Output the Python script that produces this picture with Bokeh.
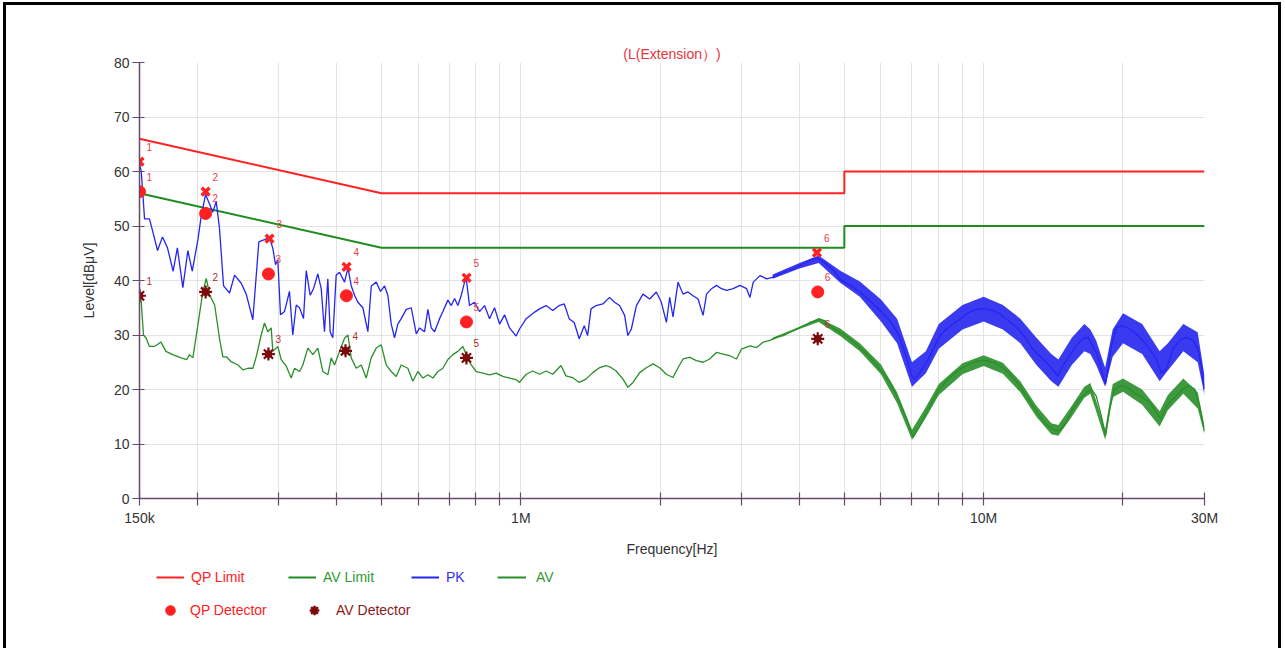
from bokeh.plotting import figure
from bokeh.layouts import column
from bokeh.models import (Range1d, FixedTicker, CustomJSTickFormatter, Legend, LegendItem)
from bokeh.embed import file_html
from bokeh.resources import INLINE

# ---------------- data ----------------
title_text = "(L(Extension）)"

# limit lines
qp_limit_freq = [150e3, 500e3, 5e6, 5e6, 30e6]
qp_limit_level = [66, 56, 56, 60, 60]
av_limit_freq = [150e3, 500e3, 5e6, 5e6, 30e6]
av_limit_level = [56, 46, 46, 50, 50]

# PK trace, low range (kHz)
pk_low_khz = [150, 151.3, 152.5, 153.8, 157.6, 160.2, 164.1, 168.2, 172.4, 177.3,
              181.1, 186.1, 190.8, 195.0, 200.6, 203.9, 208.4, 212.6, 216.0, 219.7,
              223.3, 227.9, 234.8, 240.7, 248.8, 255.1, 263.6, 271.6, 279.3, 286.4,
              291.2, 295.1, 298.5, 302.5, 308.6, 316.3, 321.6, 327.1, 332.5, 339.2,
              343.8, 350.6, 356.5, 364.2, 370.4, 376.5, 382.8, 387.3, 392.4, 399.1,
              405.8, 416, 423, 430.2, 437.3, 444.6, 455.7, 467.2, 475.2, 487.1,
              497.6, 507.6, 516, 524.8, 533.5, 542.3, 551.6, 565.5, 579.8, 594.4,
              604.2, 619.4, 629.7, 640.4, 651, 667.4, 678.6, 695.7, 707.5, 719.2,
              731.2, 743.6, 755.9, 762.3, 774.8, 794.3, 814.3, 834.8, 855.8, 877.4,
              899.6, 922.2, 945.5, 976.7]
pk_low_level = [61.5, 60, 56, 51.3, 51.3, 49, 45.5, 48, 46, 41.7,
                46, 38.7, 45.5, 41.7, 47.5, 51.8, 55.8, 54, 52.5, 54.5,
                49.6, 39, 37.7, 41, 39.5, 37.5, 32.8, 47.1, 47.5, 47.9,
                45.9, 42.9, 43.8, 33.7, 34.3, 38, 30, 35.5, 35, 33,
                41.8, 37.3, 38.5, 41.2, 38.5, 30.6, 40.3, 30.6, 29.5, 41,
                41.5, 39.7, 42.3, 39, 37.3, 36, 35, 30.6, 39, 39.7,
                38, 39, 37.3, 32, 29.5, 32, 33, 34.7, 35, 30.2,
                31.3, 30.6, 34.7, 31.3, 30.6, 33, 34.3, 36.4, 35.4, 36.7,
                35.4, 37.3, 39.7, 40.3, 35.4, 36, 34.3, 35.4, 33, 35,
                32, 33.7, 31.3, 29.8]

# PK trace, high range (MHz)
pk_high_mhz = [0.9936, 1.027, 1.071, 1.098, 1.134, 1.172, 1.210, 1.241, 1.272, 1.304,
               1.337, 1.371, 1.394, 1.418, 1.454, 1.504, 1.555, 1.594, 1.634, 1.676,
               1.703, 1.733, 1.777, 1.836, 1.898, 1.962, 2.012, 2.063, 2.097, 2.132,
               2.186, 2.241, 2.297, 2.356, 2.415, 2.476, 2.519, 2.582, 2.647, 2.714,
               2.783, 2.876, 2.974, 3.075, 3.126, 3.178, 3.286, 3.397, 3.511, 3.630,
               3.753, 3.879, 4.010, 4.146, 4.285, 4.393, 4.504, 4.656, 4.813, 4.881,
               5.141, 5.403, 5.679, 5.969, 6.273, 6.537, 6.759, 6.988, 7.103, 7.282,
               7.529, 7.779, 8.042, 8.315, 8.592, 8.884, 9.185, 9.490, 9.812, 10.14,
               10.48, 10.83, 11.2, 11.57, 11.96, 12.36, 12.77, 13.2, 13.65, 14.1,
               14.46, 14.83, 15.33, 15.85, 16.38, 16.79, 17.21, 17.65, 18.09, 18.34,
               18.55, 18.87, 19.34, 19.99, 20.67, 21.37, 22.08, 22.83, 23.6, 24.2,
               24.81, 25.64, 26.51, 27.4, 28.31, 29.03, 29.51, 30.0]
pk_high_level = [31.1, 33, 34.2, 34.8, 35.4, 34.5, 35.4, 35.7, 33, 32.3,
                 29.3, 31.7, 29.9, 34.8, 35.4, 35.7, 36.9, 36, 35.4, 33.6,
                 29.9, 31.1, 35.4, 37.5, 36.6, 37.9, 36, 32.3, 36.9, 33.3,
                 39.7, 37.5, 37.9, 37.2, 36.6, 33.6, 37.5, 38.5, 39.1, 38.5,
                 38.2, 38.5, 39.1, 38.5, 36.9, 39.7, 40.9, 40.3, 40.6, 41.2,
                 41.8, 42.1, 42.8, 43.4, 44, 44, 43.4, 42.5, 41.2, 40.3,
                 39.1, 37.9, 36.3, 34.5, 32.6, 30.2, 26.8, 22.5, 21.9, 23.1,
                 25, 27.4, 29.9, 31.1, 32, 32.9, 33.9, 34.5, 34.8, 34.8,
                 34.5, 33.9, 32.9, 32, 30.8, 29.3, 27.4, 26.2, 25, 23.7,
                 22.5, 24.4, 26.2, 28, 29.3, 29.6, 28, 26.2, 22.5, 21,
                 23.7, 28, 31.4, 31.7, 31.1, 30.2, 29, 27.4, 25.6, 23.1,
                 23.7, 27.4, 29, 29.6, 29, 27.4, 24.4, 20.1]

# AV trace, low range (kHz)
av_low_khz = [150, 151.3, 153.0, 155.1, 157.6, 161.6, 166.9, 171.1, 177.0, 184.5,
              189.8, 192.3, 195.6, 200.6, 205.6, 209.1, 212.6, 218.0, 223.3, 227.1,
              230.9, 236.8, 244.8, 251.0, 257.3, 263.7, 268.1, 274.8, 279.3, 284.0,
              288.8, 291.2, 298.5, 303.5, 311.2, 319.0, 324.4, 332.5, 338.1, 346.6,
              355.4, 364.3, 373.5, 382.9, 389.3, 395.8, 405.8, 416.0, 423.0, 430.1,
              440.9, 452.0, 463.3, 475.0, 487.0, 499.3, 511.8, 524.7, 537.9, 551.4,
              570.0, 584.3, 599.1, 614.2, 629.7, 645.5, 661.8, 678.5, 695.6, 713.1,
              731.0, 749.4, 762.1, 781.3, 801.0, 827.9, 855.9, 884.8, 914.4, 945.4,
              977.3]
av_low_level = [38.5, 36, 30, 29.4, 27.9, 27.9, 28.7, 27, 26.4, 25.8,
                25.5, 26.4, 25.8, 31.9, 38, 40.4, 37.4, 35.5, 29.4, 26,
                26, 25.1, 24.5, 23.6, 23.9, 23.9, 26, 30, 32.2, 30.6,
                31.3, 27, 27.9, 25.5, 24.3, 22.1, 23.9, 23.3, 24.5, 27.6,
                26.4, 27.6, 23.3, 22.7, 25.8, 24.5, 27, 29.4, 30, 25.8,
                23.9, 24.5, 22.1, 25.8, 27.6, 28.2, 24.5, 23.3, 22.4, 24.5,
                23.9, 21.5, 23.3, 22.1, 22.7, 22.1, 23.3, 23.9, 25.5, 26.4,
                27, 27.9, 26.4, 24.5, 23.3, 23, 22.7, 23, 22.4, 22.1,
                21.8]

# AV trace, high range (MHz)
av_high_mhz = [0.9936, 1.027, 1.061, 1.098, 1.134, 1.172, 1.221, 1.252, 1.293, 1.337,
               1.383, 1.430, 1.479, 1.529, 1.568, 1.607, 1.662, 1.704, 1.747, 1.806,
               1.867, 1.930, 1.995, 2.062, 2.132, 2.186, 2.241, 2.317, 2.395, 2.476,
               2.559, 2.646, 2.735, 2.827, 2.923, 2.996, 3.126, 3.232, 3.341, 3.454,
               3.570, 3.691, 3.815, 3.944, 4.077, 4.215, 4.321, 4.430, 4.542, 4.656,
               4.813, 4.974, 5.141, 5.403, 5.679, 5.969, 6.273, 6.594, 6.815, 7.043,
               7.282, 7.529, 7.779, 8.042, 8.315, 8.592, 8.884, 9.185, 9.490, 9.812,
               10.14, 10.48, 10.83, 11.2, 11.57, 11.96, 12.36, 12.77, 13.2, 13.65,
               14.1, 14.58, 15.08, 15.58, 16.11, 16.66, 17.08, 17.51, 17.95, 18.34,
               18.71, 19.18, 19.83, 20.67, 21.37, 22.08, 22.83, 23.6, 24.2, 24.6,
               25.22, 26.07, 26.94, 27.86, 28.55, 29.27, 30.0]
av_high_level = [21.3, 22.8, 23.4, 22.8, 23.4, 22.8, 24.4, 22.5, 22.2, 21.3,
                 21.9, 23.1, 24, 24.4, 24, 23.4, 21.9, 20.4, 21.3, 23.1,
                 24, 24.7, 24, 22.8, 22.2, 24, 25.6, 25.9, 25.3, 25,
                 25.6, 26.8, 26.5, 26.2, 25.6, 27.4, 28, 27.7, 28.7, 29,
                 29.6, 29.9, 30.5, 31.1, 31.7, 32.3, 32.6, 32.9, 32.6, 31.7,
                 30.8, 30.2, 29.3, 27.7, 25.9, 23.7, 21.3, 17.6, 14.5, 11.2,
                 13.3, 15.8, 18.2, 20.1, 21.6, 22.8, 23.7, 24.4, 25, 25.3,
                 25.3, 25, 24.4, 23.4, 22.2, 20.7, 18.8, 17, 15.2, 13.6,
                 12.7, 12.4, 13.9, 16.4, 18.2, 19.4, 20.1, 18.8, 15.2, 11.5,
                 16.4, 20.1, 20.7, 20.1, 19.1, 18.5, 17.6, 15.8, 14.5, 16.4,
                 17.6, 18.8, 20.1, 20.7, 20.1, 17, 12.3]

# noise band envelopes of the dense sweep (MHz)
band_mhz = [3.5, 4.0, 4.4, 4.9, 5.4, 6.0, 6.5, 7.0, 7.5, 8.0, 9.0,
            10.0, 11.0, 12.0, 13.0, 14.0, 14.5, 15.5, 16.5, 17.0, 17.5,
            18.3, 19.0, 20.0, 22.0, 24.0, 25.0, 27.0, 29.0, 30.0]
pk_upper = [41.1, 43.2, 44.6, 41.8, 39.8, 36.5, 33, 25, 27, 32, 35.5,
            37, 35.5, 33, 29.5, 26.5, 25.5, 29.5, 32, 31, 29,
            24, 31, 34, 32, 27, 28.5, 32, 30.5, 22.5]
pk_lower = [40.3, 42.2, 43.2, 39.6, 37, 32.5, 28.5, 20.5, 23, 27.5, 31,
            32.5, 31, 28.5, 24.5, 21.5, 20.5, 24.5, 27, 26.5, 24.5,
            20.5, 26, 28.5, 26.5, 21.5, 23.5, 27, 25, 19]
av_upper = [29.5, 31.5, 33.1, 31.2, 28.5, 24.6, 19.5, 12.6, 16.8, 21, 24.8,
            26.3, 24.9, 21.5, 17, 13.8, 13.5, 17, 20.5, 21.2, 18,
            12.7, 21, 22, 20, 16, 19, 22, 19.5, 13.3]
av_lower = [29.1, 31.1, 32.4, 29.8, 27, 22.8, 17.5, 10.8, 14.8, 19, 22.8,
            24.3, 22.9, 19.5, 15, 11.8, 11.5, 15, 18.5, 19.2, 16,
            10.8, 18.6, 19.6, 17.2, 13.2, 16.2, 19.2, 16.5, 11.8]

# final measurement points
marker_ids = ["1", "2", "3", "4", "5", "6"]
peak_freq = [150e3, 208.4e3, 286.4e3, 420.2e3, 763.5e3, 4.363e6]
peak_level = [61.8, 56.3, 47.7, 42.5, 40.5, 45.1]
qp_det_freq = [150e3, 208.4e3, 284.9e3, 420e3, 763e3, 4.38e6]
qp_det_level = [56.3, 52.3, 41.2, 37.2, 32.4, 37.9]
av_det_freq = [150e3, 208.4e3, 284.9e3, 418e3, 763e3, 4.38e6]
av_det_level = [37.2, 37.9, 26.5, 27.1, 25.8, 29.3]

# axis ticks
x_ticks = [150e3, 200e3, 300e3, 400e3, 500e3, 600e3, 700e3, 800e3, 900e3,
           1e6, 2e6, 3e6, 4e6, 5e6, 6e6, 7e6, 8e6, 9e6, 10e6, 20e6, 30e6]
x_label_ticks = [150e3, 1e6, 10e6, 30e6]
x_label_text = ["150k", "1M", "10M", "30M"]
y_ticks = [0, 10, 20, 30, 40, 50, 60, 70, 80]

# ---------------- derived series ----------------
pk_freq = [f * 1e3 for f in pk_low_khz] + [f * 1e6 for f in pk_high_mhz]
pk_level = pk_low_level + pk_high_level
av_freq = [f * 1e3 for f in av_low_khz] + [f * 1e6 for f in av_high_mhz]
av_level = av_low_level + av_high_level
band_freq = [f * 1e6 for f in band_mhz]

# ---------------- styling ----------------
FONT = "Liberation Sans"
RED = "#ff2121"
LIMIT_GREEN = "#1e8c1e"
TRACE_GREEN = "#2a8f2a"
BLUE = "#2525f0"
DARK_RED = "#7d0a0a"
AXIS_COLOR = "#6a4a6a"

W = 1272
MAIN_H = 554
LEG_H = 89

p = figure(width=W, height=MAIN_H, x_axis_type="log",
           x_range=Range1d(150e3, 30e6), y_range=Range1d(0, 80),
           output_backend="svg", toolbar_location=None,
           min_border_left=133, min_border_right=74,
           min_border_top=57, min_border_bottom=61,
           title=title_text)
p.outline_line_color = None
p.background_fill_color = "white"
p.border_fill_color = "white"

p.title.align = "center"
p.title.text_color = "#e8343c"
p.title.text_font = FONT
p.title.text_font_size = "14px"
p.title.text_font_style = "normal"
p.title.standoff = 2

xt = FixedTicker(ticks=x_ticks)
p.xaxis.ticker = xt
p.xgrid.ticker = xt
p.xaxis.formatter = CustomJSTickFormatter(
    args=dict(vals=x_label_ticks, labs=x_label_text),
    code="""
    for (let i = 0; i < vals.length; i++) {
        if (Math.abs(tick - vals[i]) / vals[i] < 1e-6) return labs[i];
    }
    return "";
    """)
yt = FixedTicker(ticks=y_ticks)
p.yaxis.ticker = yt
p.ygrid.ticker = yt

for ax in (p.xaxis, p.yaxis):
    ax.axis_line_color = AXIS_COLOR
    ax.axis_line_width = 1.5
    ax.major_tick_line_color = AXIS_COLOR
    ax.major_tick_line_width = 1.2
    ax.minor_tick_line_color = None
    ax.major_label_text_font = FONT
    ax.major_label_text_font_size = "14px"
    ax.major_label_text_color = "#333333"
    ax.axis_label_text_font = FONT
    ax.axis_label_text_font_size = "14px"
    ax.axis_label_text_font_style = "normal"
    ax.axis_label_text_color = "#333333"

p.xaxis.major_tick_in = 6
p.xaxis.major_tick_out = 7
p.yaxis.major_tick_in = 5
p.yaxis.major_tick_out = 7
p.xaxis.major_label_standoff = 4
p.yaxis.major_label_standoff = 3
p.xaxis.axis_label = "Frequency[Hz]"
p.yaxis.axis_label = "Level[dBμV]"
p.xaxis.axis_label_standoff = 12
p.yaxis.axis_label_standoff = 14

p.xgrid.grid_line_color = "#e4e4e4"
p.ygrid.grid_line_color = "#e4e4e4"

# limits
p.line(qp_limit_freq, qp_limit_level, line_color=RED, line_width=2)
p.line(av_limit_freq, av_limit_level, line_color=LIMIT_GREEN, line_width=2)

# traces
p.varea(x=band_freq, y1=av_lower, y2=av_upper, fill_color=TRACE_GREEN, fill_alpha=0.9)
p.line(av_freq, av_level, line_color=TRACE_GREEN, line_width=1.3)
p.varea(x=band_freq, y1=pk_lower, y2=pk_upper, fill_color=BLUE, fill_alpha=0.9)
p.line(pk_freq, pk_level, line_color=BLUE, line_width=1.3)

# markers
p.scatter(peak_freq, peak_level, marker="x", size=11, line_width=3.5, line_color=RED)
p.scatter(qp_det_freq, qp_det_level, marker="circle", size=12,
          fill_color=RED, line_color=RED)
p.scatter(av_det_freq, av_det_level, marker="asterisk", size=13,
          line_width=2.2, line_color=DARK_RED)
p.scatter(av_det_freq, av_det_level, marker="circle", size=7,
          fill_color=DARK_RED, line_color=DARK_RED)

label_kw = dict(x_offset=7, y_offset=-15, text_font_size="10px",
                text_baseline="middle", text_align="left")
p.text(peak_freq, peak_level, text=marker_ids, text_color="#e8404a", **label_kw)
p.text(qp_det_freq, qp_det_level, text=marker_ids, text_color="#e8404a", **label_kw)
p.text(av_det_freq, av_det_level, text=marker_ids, text_color="#b03030", **label_kw)

# ---------------- legend strip ----------------
# (its frame is aligned with the main plot's frame by the column layout)
lp = figure(width=W, height=LEG_H, x_range=Range1d(0, 1), y_range=Range1d(0, 1),
            x_axis_type=None, y_axis_type=None, output_backend="svg",
            toolbar_location=None, min_border=0)
lp.outline_line_color = None
lp.grid.visible = False
lp.background_fill_color = "white"
lp.border_fill_color = "white"

nan = float("nan")
d_qp = lp.line([nan], [nan], line_color=RED, line_width=2)
d_avl = lp.line([nan], [nan], line_color=LIMIT_GREEN, line_width=2)
d_pk = lp.line([nan], [nan], line_color=BLUE, line_width=2)
d_av = lp.line([nan], [nan], line_color=TRACE_GREEN, line_width=2)
d_qpd = lp.scatter([nan], [nan], marker="circle", fill_color=RED, line_color=RED)
d_avs = lp.scatter([nan], [nan], marker="asterisk", line_width=2.5, line_color=DARK_RED)

legend_specs = [
    ("QP Limit", [d_qp], RED, (17, LEG_H - 28), 28, 20, 7),
    ("AV Limit", [d_avl], "#2f9a2f", (149, LEG_H - 28), 28, 20, 7),
    ("PK", [d_pk], "#3030ee", (272, LEG_H - 28), 28, 20, 7),
    ("AV", [d_av], "#2f9a2f", (358, LEG_H - 28), 29, 20, 10),
    ("QP Detector", [d_qpd], RED, (19, LEG_H - 64), 24, 26, 8),
    ("AV Detector", [d_avs], "#8a1a1a", (163, LEG_H - 64), 24, 26, 10),
]
for label, rends, col, loc, gw, gh, standoff in legend_specs:
    leg = Legend(items=[LegendItem(label=label, renderers=rends)], location=loc,
                 orientation="horizontal", padding=0, margin=0, spacing=0,
                 glyph_width=gw, glyph_height=gh, label_standoff=standoff,
                 label_height=20,
                 label_text_font=FONT, label_text_font_size="14px",
                 label_text_color=col, border_line_color=None,
                 background_fill_alpha=0)
    lp.add_layout(leg)

layout = column(p, lp, spacing=0,
                styles={"border-left": "3px solid black",
                        "border-top": "3px solid black",
                        "border-right": "3px solid black",
                        "margin-left": "3px", "margin-top": "2px"})

open("out.html", "w").write(file_html(layout, INLINE))
